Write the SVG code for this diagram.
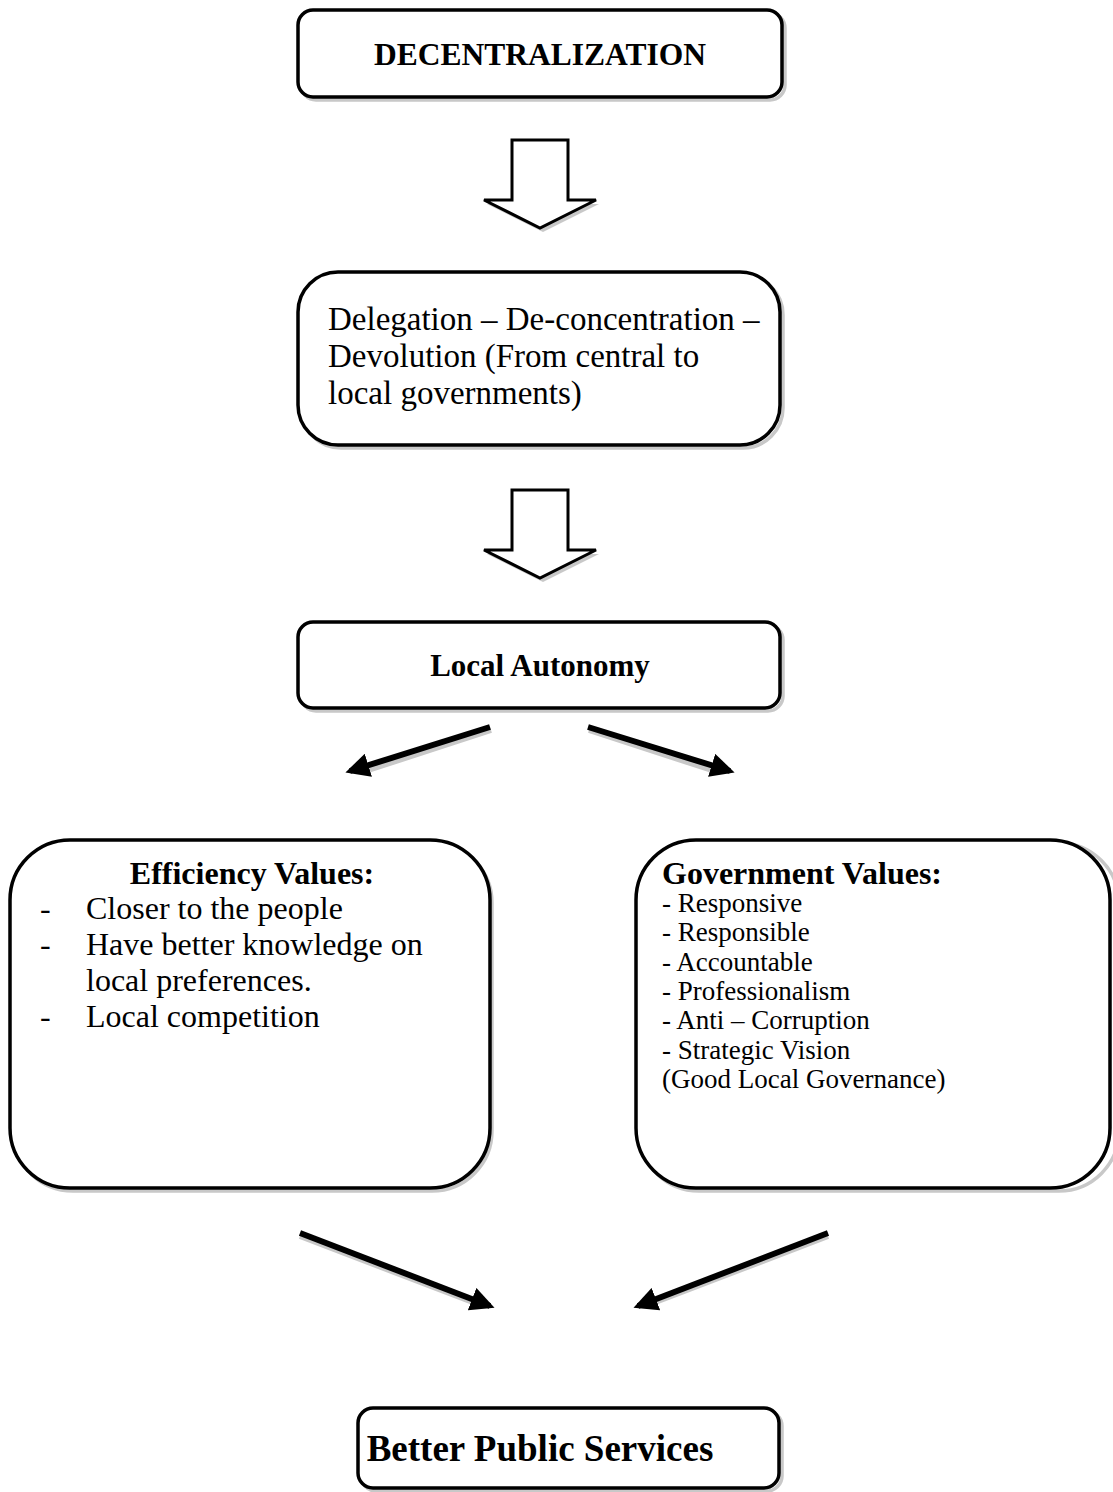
<svg xmlns="http://www.w3.org/2000/svg" width="1113" height="1492" viewBox="0 0 1113 1492">
<style>
.box{fill:#fff;stroke:#000;stroke-width:3.5}
.sh{fill:none;stroke:#c8c8c8;stroke-width:3.5}
.t{font-family:"Liberation Serif","Times New Roman",serif;fill:#000}
.b{font-weight:bold}
.ln{stroke:#000;stroke-width:6;fill:none}
.lsh{stroke:#c8c8c8;stroke-width:6;fill:none}
.ba{fill:#fff;stroke:#000;stroke-width:3}
.bsh{fill:#c8c8c8;stroke:none}
</style>
<defs>
<marker id="ah" viewBox="0 0 10 10" refX="8" refY="5" markerWidth="4" markerHeight="4" orient="auto" markerUnits="strokeWidth">
<path d="M0,0 L10,5 L0,10 z" fill="#000"/>
</marker>
</defs>
<g id="n-decentralization">
<rect class="sh" x="301" y="13" width="484" height="87" rx="15"/>
<rect class="box" x="298" y="10" width="484" height="87" rx="15"/>
<text class="t b" x="540" y="65" font-size="31.5" text-anchor="middle">DECENTRALIZATION</text>
</g>
<g id="n-delegation">
<rect class="sh" x="301" y="275" width="482" height="173" rx="40"/>
<rect class="box" x="298" y="272" width="482" height="173" rx="40"/>
<text class="t" font-size="33"><tspan x="328" y="330">Delegation – De-concentration –</tspan><tspan x="328" y="367">Devolution (From central to</tspan><tspan x="328" y="404">local governments)</tspan></text>
</g>
<g id="n-autonomy">
<rect class="sh" x="301" y="625" width="482" height="86" rx="15"/>
<rect class="box" x="298" y="622" width="482" height="86" rx="15"/>
<text class="t b" x="540" y="676" font-size="31" text-anchor="middle">Local Autonomy</text>
</g>
<g id="n-efficiency">
<rect class="sh" x="13" y="843" width="479" height="348" rx="60"/>
<rect class="box" x="10" y="840" width="480" height="348" rx="60"/>
<text class="t b" x="252" y="884" font-size="32" text-anchor="middle">Efficiency Values:</text>
<text class="t" font-size="32"><tspan x="40" y="919">-</tspan><tspan x="86" y="919">Closer to the people</tspan><tspan x="40" y="955">-</tspan><tspan x="86" y="955">Have better knowledge on</tspan><tspan x="86" y="991">local preferences.</tspan><tspan x="40" y="1027">-</tspan><tspan x="86" y="1027">Local competition</tspan></text>
</g>
<g id="n-government">
<rect class="sh" x="639" y="843" width="480" height="348" rx="60"/>
<rect class="box" x="636" y="840" width="474" height="348" rx="60"/>
<text class="t b" x="662" y="884" font-size="32">Government Values:</text>
<text class="t" font-size="27"><tspan x="662" y="912">- Responsive</tspan><tspan x="662" y="941">- Responsible</tspan><tspan x="662" y="971">- Accountable</tspan><tspan x="662" y="1000">- Professionalism</tspan><tspan x="662" y="1029">- Anti – Corruption</tspan><tspan x="662" y="1059">- Strategic Vision</tspan><tspan x="662" y="1088">(Good Local Governance)</tspan></text>
</g>
<g id="n-better">
<rect class="sh" x="361" y="1411" width="421" height="80" rx="15"/>
<rect class="box" x="358" y="1408" width="421" height="80" rx="15"/>
<text class="t b" x="540" y="1461" font-size="37" text-anchor="middle">Better Public Services</text>
</g>
<g id="connectors">
<polygon class="bsh" points="487,204 599,204 543,232"/>
<polygon class="ba" points="512,140 568,140 568,200 596,200 540,228 484,200 512,200"/>
<polygon class="bsh" points="487,554 599,554 543,582"/>
<polygon class="ba" points="512,490 568,490 568,550 596,550 540,578 484,550 512,550"/>
<line class="lsh" x1="491" y1="730" x2="362" y2="772"/>
<line class="ln" x1="490" y1="727" x2="350" y2="771" marker-end="url(#ah)"/>
<line class="lsh" x1="589" y1="730" x2="718" y2="772"/>
<line class="ln" x1="588" y1="727" x2="730" y2="771" marker-end="url(#ah)"/>
<line class="lsh" x1="300" y1="1236" x2="478" y2="1304"/>
<line class="ln" x1="300" y1="1233" x2="490" y2="1306" marker-end="url(#ah)"/>
<line class="lsh" x1="828" y1="1236" x2="650" y2="1304"/>
<line class="ln" x1="828" y1="1233" x2="638" y2="1306" marker-end="url(#ah)"/>
</g>
</svg>
